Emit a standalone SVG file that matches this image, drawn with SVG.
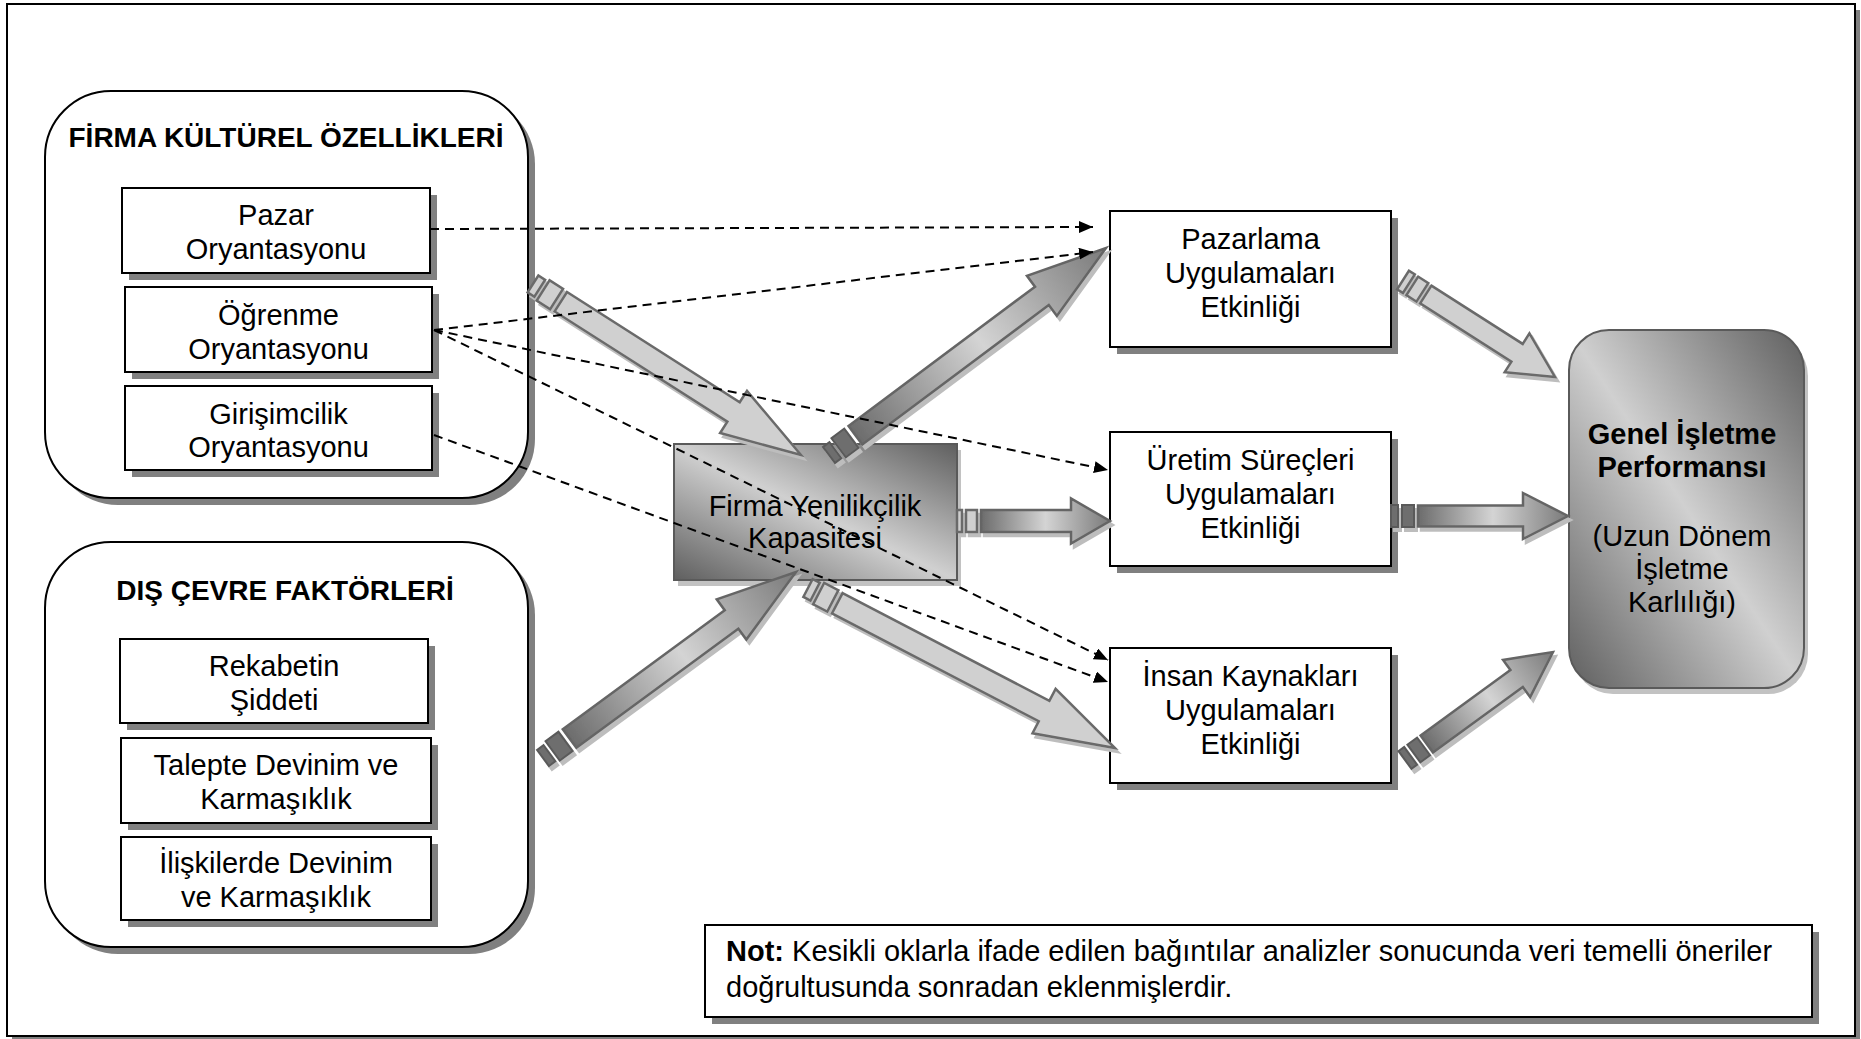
<svg xmlns="http://www.w3.org/2000/svg" width="1861" height="1039" viewBox="0 0 1861 1039">
<style>
.sh{fill:#808080}
.box{fill:#fff;stroke:#000;stroke-width:2}
.t{font-family:"Liberation Sans",Arial,sans-serif;font-size:29px;text-anchor:middle;fill:#000}
.ttl{font-family:"Liberation Sans",Arial,sans-serif;font-size:28px;font-weight:bold;text-anchor:middle;fill:#000}
.b{font-weight:bold}
.dash{fill:none;stroke:#000;stroke-width:2;stroke-dasharray:9 6;marker-end:url(#ah)}
.lt{fill:#d0d0d0;stroke:#6a6a6a;stroke-width:2.5}
.gr{fill:url(#ag);stroke:#656565;stroke-width:2.5}
.dk{fill:#6e6e6e;stroke:#5a5a5a;stroke-width:2}
.hsh{fill:#c2c2c2}
</style>
<defs>
<marker id="ah" viewBox="0 0 14 12" refX="14" refY="6" markerWidth="14" markerHeight="12" markerUnits="userSpaceOnUse" orient="auto"><path d="M0,0 L14,6 L0,12 z" fill="#000"/></marker>
<linearGradient id="ng" x1="0" y1="1" x2="1" y2="0"><stop offset="0" stop-color="#5f5f5f"/><stop offset="0.5" stop-color="#d0d0d0"/><stop offset="1" stop-color="#5f5f5f"/></linearGradient>
<linearGradient id="ag" x1="0" y1="0" x2="1" y2="0"><stop offset="0" stop-color="#6c6c6c"/><stop offset="0.5" stop-color="#d4d4d4"/><stop offset="1" stop-color="#7a7a7a"/></linearGradient>
<filter id="ash" x="-10%" y="-10%" width="130%" height="130%"><feFlood flood-color="#bdbdbd"/><feComposite in2="SourceAlpha" operator="in"/><feOffset dx="3" dy="4" result="s"/><feMerge><feMergeNode in="s"/><feMergeNode in="SourceGraphic"/></feMerge></filter>
</defs>

<g id="frame">
<rect x="12" y="10" width="1848" height="1032" class="sh"/>
<rect x="7" y="4" width="1848" height="1032" class="box"/>
</g>

<g id="firma-kulturel-ozellikleri">
<rect x="52" y="98" width="483" height="407" rx="66" class="sh"/>
<rect x="45" y="91" width="483" height="407" rx="66" class="box"/>
<text x="286" y="147" class="ttl">FİRMA KÜLTÜREL ÖZELLİKLERİ</text>
</g>
<g id="pazar-oryantasyonu">
<rect x="129" y="195" width="308" height="85" class="sh"/>
<rect x="122" y="188" width="308" height="85" class="box"/>
<text x="276" y="225" class="t">Pazar</text>
<text x="276" y="259" class="t">Oryantasyonu</text>
</g>
<g id="ogrenme-oryantasyonu">
<rect x="132" y="294" width="307" height="85" class="sh"/>
<rect x="125" y="287" width="307" height="85" class="box"/>
<text x="278.5" y="325" class="t">Öğrenme</text>
<text x="278.5" y="359" class="t">Oryantasyonu</text>
</g>
<g id="girisimcilik-oryantasyonu">
<rect x="132" y="393" width="307" height="84" class="sh"/>
<rect x="125" y="386" width="307" height="84" class="box"/>
<text x="278.5" y="424" class="t">Girişimcilik</text>
<text x="278.5" y="457" class="t">Oryantasyonu</text>
</g>

<g id="dis-cevre-faktorleri">
<rect x="52" y="549" width="483" height="405" rx="66" class="sh"/>
<rect x="45" y="542" width="483" height="405" rx="66" class="box"/>
<text x="285" y="600" class="ttl">DIŞ ÇEVRE FAKTÖRLERİ</text>
</g>
<g id="rekabetin-siddeti">
<rect x="127" y="646" width="308" height="84" class="sh"/>
<rect x="120" y="639" width="308" height="84" class="box"/>
<text x="274" y="676" class="t">Rekabetin</text>
<text x="274" y="710" class="t">Şiddeti</text>
</g>
<g id="talepte-devinim">
<rect x="128" y="745" width="310" height="85" class="sh"/>
<rect x="121" y="738" width="310" height="85" class="box"/>
<text x="276" y="775" class="t">Talepte Devinim ve</text>
<text x="276" y="809" class="t">Karmaşıklık</text>
</g>
<g id="iliskilerde-devinim">
<rect x="128" y="844" width="310" height="83" class="sh"/>
<rect x="121" y="837" width="310" height="83" class="box"/>
<text x="276" y="873" class="t">İlişkilerde Devinim</text>
<text x="276" y="907" class="t">ve Karmaşıklık</text>
</g>

<g id="firma-yenilikcilik-kapasitesi">
<rect x="678" y="450" width="283" height="136" class="hsh"/>
<rect x="674" y="444" width="283" height="136" fill="url(#ng)" stroke="#5a5a5a" stroke-width="2"/>
<text x="815" y="516" class="t">Firma Yenilikçilik</text>
<text x="815" y="548" class="t">Kapasitesi</text>
</g>

<g id="pazarlama-uygulamalari">
<rect x="1117" y="218" width="281" height="136" class="sh"/>
<rect x="1110" y="211" width="281" height="136" class="box"/>
<text x="1250.5" y="249" class="t">Pazarlama</text>
<text x="1250.5" y="283" class="t">Uygulamaları</text>
<text x="1250.5" y="317" class="t">Etkinliği</text>
</g>
<g id="uretim-surecleri">
<rect x="1117" y="439" width="281" height="134" class="sh"/>
<rect x="1110" y="432" width="281" height="134" class="box"/>
<text x="1250.5" y="470" class="t">Üretim Süreçleri</text>
<text x="1250.5" y="504" class="t">Uygulamaları</text>
<text x="1250.5" y="538" class="t">Etkinliği</text>
</g>
<g id="insan-kaynaklari">
<rect x="1117" y="655" width="281" height="135" class="sh"/>
<rect x="1110" y="648" width="281" height="135" class="box"/>
<text x="1250.5" y="686" class="t">İnsan Kaynakları</text>
<text x="1250.5" y="720" class="t">Uygulamaları</text>
<text x="1250.5" y="754" class="t">Etkinliği</text>
</g>

<g id="genel-isletme-performansi">
<rect x="1573" y="336" width="235" height="358" rx="40" class="hsh"/>
<rect x="1569" y="330" width="235" height="358" rx="40" fill="url(#ng)" stroke="#5a5a5a" stroke-width="2"/>
<text x="1682" y="444" class="t b">Genel İşletme</text>
<text x="1682" y="477" class="t b">Performansı</text>
<text x="1682" y="546" class="t">(Uzun Dönem</text>
<text x="1682" y="579" class="t">İşletme</text>
<text x="1682" y="612" class="t">Karlılığı)</text>
</g>

<g id="not">
<rect x="712" y="932" width="1107" height="92" class="sh"/>
<rect x="705" y="925" width="1107" height="92" class="box"/>
<text x="726" y="961" class="t" style="text-anchor:start"><tspan class="b">Not:</tspan> Kesikli oklarla ifade edilen bağıntılar analizler sonucunda veri temelli öneriler</text>
<text x="726" y="997" class="t" style="text-anchor:start">doğrultusunda sonradan eklenmişlerdir.</text>
</g>

<g id="connectors">
<g filter="url(#ash)"><g transform="translate(533,284) rotate(32.54)">
<rect x="0" y="-10" width="8" height="20" class="lt"/><rect x="12" y="-12" width="16" height="24" class="lt"/>
<path d="M33,-11.5 H237.9 V-25 L317.9,0 L237.9,25 V11.5 H33 Z" class="lt"/>
</g></g>
<g filter="url(#ash)"><g transform="translate(829,455) rotate(-36.77)">
<rect x="0" y="-10" width="8" height="20" class="dk"/><rect x="12" y="-12" width="16" height="24" class="dk"/>
<path d="M33,-11.5 H265.8 V-25 L345.8,0 L265.8,25 V11.5 H33 Z" class="gr"/>
</g></g>
<g filter="url(#ash)"><g transform="translate(957,521)">
<rect x="0" y="-11" width="5" height="22" class="lt"/><rect x="9" y="-11" width="11" height="22" class="lt"/>
<path d="M24,-11 H114 V-22.5 L153,0 L114,22.5 V11 H24 Z" class="gr"/>
</g></g>
<g filter="url(#ash)"><g transform="translate(543,758) rotate(-36.32)">
<rect x="0" y="-10" width="8" height="20" class="dk"/><rect x="12" y="-12" width="16" height="24" class="dk"/>
<path d="M33,-11.5 H234 V-25 L314,0 L234,25 V11.5 H33 Z" class="gr"/>
</g></g>
<g filter="url(#ash)"><g transform="translate(808,588) rotate(27.53)">
<rect x="0" y="-10" width="8" height="20" class="lt"/><rect x="12" y="-12" width="16" height="24" class="lt"/>
<path d="M33,-11.5 H266.2 V-25 L346.2,0 L266.2,25 V11.5 H33 Z" class="lt"/>
</g></g>
<g filter="url(#ash)"><g transform="translate(1403,280) rotate(32.54)">
<rect x="0" y="-11" width="7" height="22" class="lt"/><rect x="11" y="-11" width="12" height="22" class="lt"/>
<path d="M27,-10.5 H135.3 V-23 L180.3,0 L135.3,23 V10.5 H27 Z" class="lt"/>
</g></g>
<g filter="url(#ash)"><g transform="translate(1391,516)">
<rect x="0" y="-11" width="7" height="22" class="dk"/><rect x="11" y="-11" width="12" height="22" class="dk"/>
<path d="M27,-10.5 H132 V-23 L177,0 L132,23 V10.5 H27 Z" class="gr"/>
</g></g>
<g filter="url(#ash)"><g transform="translate(1405,760) rotate(-36.12)">
<rect x="0" y="-11" width="7" height="22" class="dk"/><rect x="11" y="-11" width="12" height="22" class="dk"/>
<path d="M27,-10.5 H138.2 V-23 L183.2,0 L138.2,23 V10.5 H27 Z" class="gr"/>
</g></g>
<path d="M430,229 L1093,227" class="dash"/>
<path d="M434,330 L1093,252" class="dash"/>
<path d="M434,330 L1108,470" class="dash"/>
<path d="M434,330 L1108,660" class="dash"/>
<path d="M434,435 L1108,682" class="dash"/>
</g>
</svg>
